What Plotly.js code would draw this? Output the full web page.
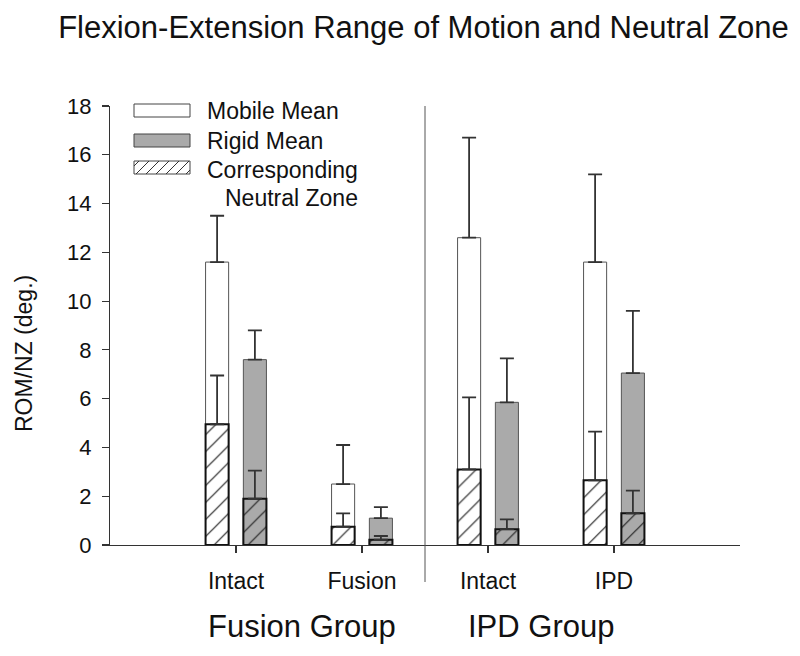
<!DOCTYPE html>
<html>
<head>
<meta charset="utf-8">
<script src="https://cdn.plot.ly/plotly-3.0.1.min.js"></script>
<style>html,body{margin:0;padding:0;background:#fff;}#chart{width:800px;height:656px;}</style>
</head>
<body>
<div id="chart"></div>
<script>
// ---- data ----
var categories = ['Intact', 'Fusion', 'Intact', 'IPD'];
var groupLabels = ['Fusion Group', 'IPD Group'];
var seriesNames = ['Mobile Mean', 'Rigid Mean', 'Corresponding', 'Neutral Zone'];
var mobileMean = [11.6, 2.5, 12.6, 11.6];
var mobileErr = [1.9, 1.6, 4.1, 3.6];
var rigidMean = [7.6, 1.1, 5.85, 7.05];
var rigidErr = [1.2, 0.45, 1.8, 2.55];
var mobileNZ = [4.95, 0.75, 3.1, 2.65];
var mobileNZErr = [2.0, 0.55, 2.95, 2.0];
var rigidNZ = [1.9, 0.22, 0.65, 1.3];
var rigidNZErr = [1.15, 0.15, 0.4, 0.93];
var yTicks = [0, 2, 4, 6, 8, 10, 12, 14, 16, 18];

// ---- layout helpers ----
var L = 110, R = 740, T = 106, B = 545;
function px(x) { return (x - L) / (R - L); }
function py(y) { return (B - y) / (B - T); }
var xPos = categories.map(function (c, i) { return i + 1; });
var barW = 0.183;
var grey = '#aaaaaa';
var errStyle = function (arr) {
  return { type: 'data', symmetric: false, array: arr, arrayminus: arr.map(function () { return 0; }),
           color: '#333', thickness: 1.8, width: 7 };
};

var traces = [
  { type: 'bar', name: seriesNames[0], x: xPos, y: mobileMean, width: barW, offset: -0.2415,
    marker: { color: '#ffffff', line: { color: '#555', width: 1 } }, error_y: errStyle(mobileErr) },
  { type: 'bar', name: seriesNames[1], x: xPos, y: rigidMean, width: barW, offset: 0.0585,
    marker: { color: grey, line: { color: '#555', width: 1 } }, error_y: errStyle(rigidErr) },
  { type: 'bar', name: seriesNames[2] + ' ' + seriesNames[3], x: xPos, y: mobileNZ, width: barW, offset: -0.2415,
    marker: { color: '#ffffff', line: { color: '#111', width: 2 },
              pattern: { shape: '/', fgcolor: '#222', bgcolor: '#ffffff', size: 12, solidity: 0.1, fillmode: 'replace' } },
    error_y: errStyle(mobileNZErr) },
  { type: 'bar', name: seriesNames[2] + ' ' + seriesNames[3] + ' (rigid)', x: xPos, y: rigidNZ, width: barW, offset: 0.0585,
    marker: { color: grey, line: { color: '#111', width: 2 },
              pattern: { shape: '/', fgcolor: '#222', bgcolor: grey, size: 12, solidity: 0.1, fillmode: 'replace' } },
    error_y: errStyle(rigidNZErr) }
];

// legend swatches (decoration)
function rectPath(x0, y0, x1, y1) {
  return 'M' + px(x0) + ',' + py(y0) + 'L' + px(x1) + ',' + py(y0) + 'L' + px(x1) + ',' + py(y1) + 'L' + px(x0) + ',' + py(y1) + 'Z';
}
function hatchPath(x0, y0, x1, y1, step) {
  var h = y1 - y0, d = '';
  for (var s = x0 - h + step / 2; s < x1; s += step) {
    var sx = s, sy = y1, ex = s + h, ey = y0;
    if (sx < x0) { sy = y1 - (x0 - sx); sx = x0; }
    if (ex > x1) { ey = y0 + (ex - x1); ex = x1; }
    d += 'M' + px(sx) + ',' + py(sy) + 'L' + px(ex) + ',' + py(ey);
  }
  return d;
}
var sw = { x0: 134, x1: 190 };
var shapes = [
  { type: 'path', xref: 'paper', yref: 'paper', path: rectPath(sw.x0, 104, sw.x1, 117), fillcolor: '#fff', line: { color: '#444', width: 1 } },
  { type: 'path', xref: 'paper', yref: 'paper', path: rectPath(sw.x0, 134, sw.x1, 147), fillcolor: grey, line: { color: '#444', width: 1 } },
  { type: 'path', xref: 'paper', yref: 'paper', path: rectPath(sw.x0, 161, sw.x1, 174), fillcolor: '#fff', line: { color: '#444', width: 1 } },
  { type: 'path', xref: 'paper', yref: 'paper', path: hatchPath(sw.x0, 161, sw.x1, 174, 10), line: { color: '#333', width: 1 } },
  // group divider
  { type: 'line', xref: 'x', yref: 'paper', x0: 2.5, x1: 2.5, y0: py(582), y1: 1, line: { color: '#555', width: 1 } }
];

var fontFam = 'Liberation Sans, Arial, sans-serif';
var annotations = [
  { xref: 'paper', yref: 'paper', x: px(205), y: py(111), xanchor: 'left', yanchor: 'middle', showarrow: false, text: seriesNames[0], font: { size: 23, color: '#111', family: fontFam } },
  { xref: 'paper', yref: 'paper', x: px(205), y: py(141), xanchor: 'left', yanchor: 'middle', showarrow: false, text: seriesNames[1], font: { size: 23, color: '#111', family: fontFam } },
  { xref: 'paper', yref: 'paper', x: px(205), y: py(170), xanchor: 'left', yanchor: 'middle', showarrow: false, text: seriesNames[2], font: { size: 23, color: '#111', family: fontFam } },
  { xref: 'paper', yref: 'paper', x: px(223), y: py(198), xanchor: 'left', yanchor: 'middle', showarrow: false, text: seriesNames[3], font: { size: 23, color: '#111', family: fontFam } },
  { xref: 'paper', yref: 'paper', x: px(301.5), y: py(626), xanchor: 'center', yanchor: 'middle', showarrow: false, text: groupLabels[0], font: { size: 31, color: '#111', family: fontFam } },
  { xref: 'paper', yref: 'paper', x: px(541), y: py(626), xanchor: 'center', yanchor: 'middle', showarrow: false, text: groupLabels[1], font: { size: 31, color: '#111', family: fontFam } },
  { xref: 'paper', yref: 'paper', x: px(24), y: py(354), xanchor: 'center', yanchor: 'middle', showarrow: false, textangle: -90, text: 'ROM/NZ (deg.)', font: { size: 23, color: '#111', family: fontFam } }
];

var layout = {
  width: 800, height: 656,
  margin: { l: L, r: 800 - R, t: T, b: 656 - B },
  paper_bgcolor: '#fff', plot_bgcolor: '#fff',
  font: { family: fontFam, color: '#111' },
  title: { text: 'Flexion-Extension Range of Motion and Neutral Zone', x: 423.5 / 800, xanchor: 'center', y: 1 - 27 / 656, yanchor: 'middle', font: { size: 31, color: '#111', family: fontFam } },
  barmode: 'overlay',
  showlegend: false,
  xaxis: { range: [0, 5], tickvals: xPos, ticktext: categories, showgrid: false, zeroline: false,
           showline: true, linecolor: '#333', linewidth: 1.2, ticks: 'outside', ticklen: 7, tickwidth: 2, tickcolor: '#333',
           ticklabelstandoff: 8, tickfont: { size: 23, color: '#111' }, fixedrange: true },
  yaxis: { range: [0, 18], tickvals: yTicks, showgrid: false, zeroline: false,
           showline: true, linecolor: '#333', linewidth: 1.2, ticks: 'outside', ticklen: 7, tickwidth: 1.2, tickcolor: '#333',
           ticklabelstandoff: 6, tickfont: { size: 22, color: '#111' }, fixedrange: true },
  shapes: shapes,
  annotations: annotations
};

Plotly.newPlot('chart', traces, layout, { displayModeBar: false, staticPlot: true });
</script>
</body>
</html>
